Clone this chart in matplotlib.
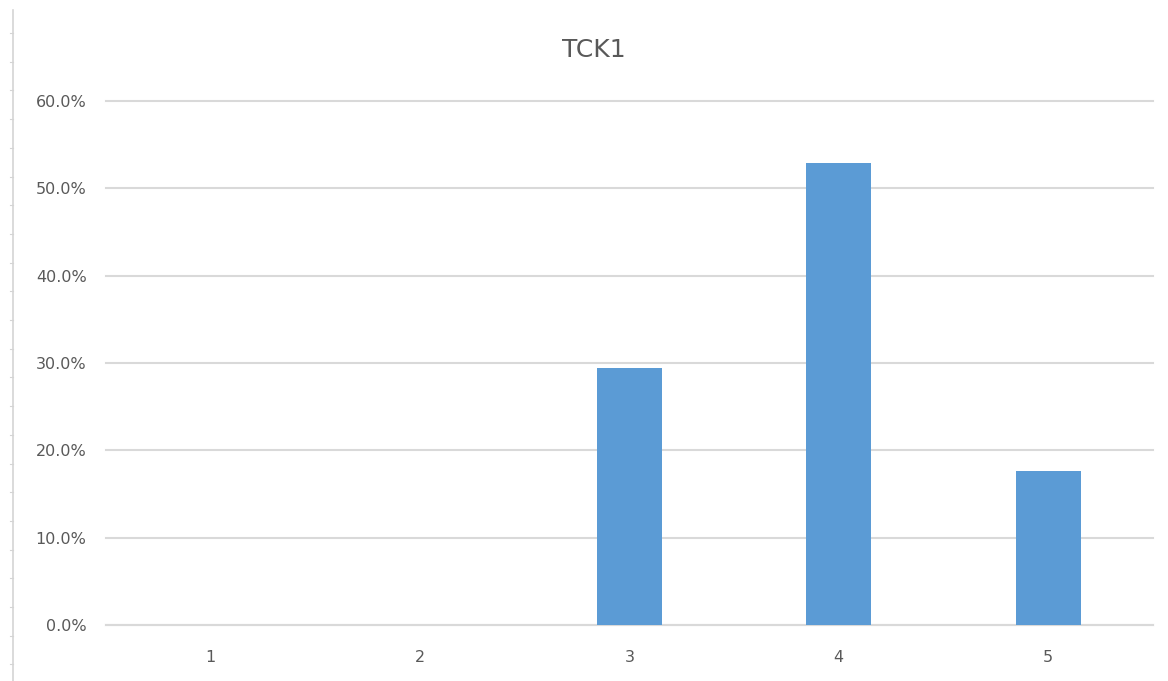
import numpy as np
import matplotlib.pyplot as plt
from matplotlib.lines import Line2D
from matplotlib.ticker import PercentFormatter

# share of answers per score
categories = ['1', '2', '3', '4', '5']
shares = [0.0, 0.0, 5 / 17, 9 / 17, 3 / 17]

bar_color = '#5b9bd5'
grid_color = '#d9d9d9'
text_color = '#595959'

fig = plt.figure(figsize=(11.68, 6.81), dpi=100)
ax = fig.add_axes([0.0908, 0.0822, 0.8962, 0.7695])

x = np.arange(len(categories))
ax.bar(x, shares, width=0.31, color=bar_color, zorder=3)

ax.set_xlim(-0.5, len(categories) - 0.5)
ax.set_ylim(0, 0.6)
ax.set_yticks(np.arange(0, 0.61, 0.1))
ax.yaxis.set_major_formatter(PercentFormatter(1.0, decimals=1))
ax.set_xticks(x)
ax.set_xticklabels(categories)

ax.grid(axis='y', color=grid_color, linewidth=1.5, zorder=0)
for gl in ax.get_ygridlines():
    gl.set_clip_on(False)
for side in ['top', 'right', 'left']:
    ax.spines[side].set_visible(False)
ax.spines['bottom'].set_color(grid_color)
ax.spines['bottom'].set_linewidth(1.5)
ax.tick_params(axis='both', length=0, colors=text_color, labelsize=11.5)
ax.tick_params(axis='y', pad=14)
ax.tick_params(axis='x', pad=18)

fig.text(0.5086, 0.926, 'TCK1', ha='center', va='center',
         fontsize=18, color=text_color)

# thin sheet border along the left edge
fig.add_artist(Line2D([13 / 1168, 13 / 1168], [0, 1 - 10 / 681],
                      color='#d4d4d4', linewidth=1.2))
for yy in np.arange(33, 681, 28.7):
    fy = 1 - yy / 681
    fig.add_artist(Line2D([10 / 1168, 13 / 1168], [fy, fy],
                          color='#d4d4d4', linewidth=0.8))

fig.savefig('out.png', dpi=100, facecolor='white')
